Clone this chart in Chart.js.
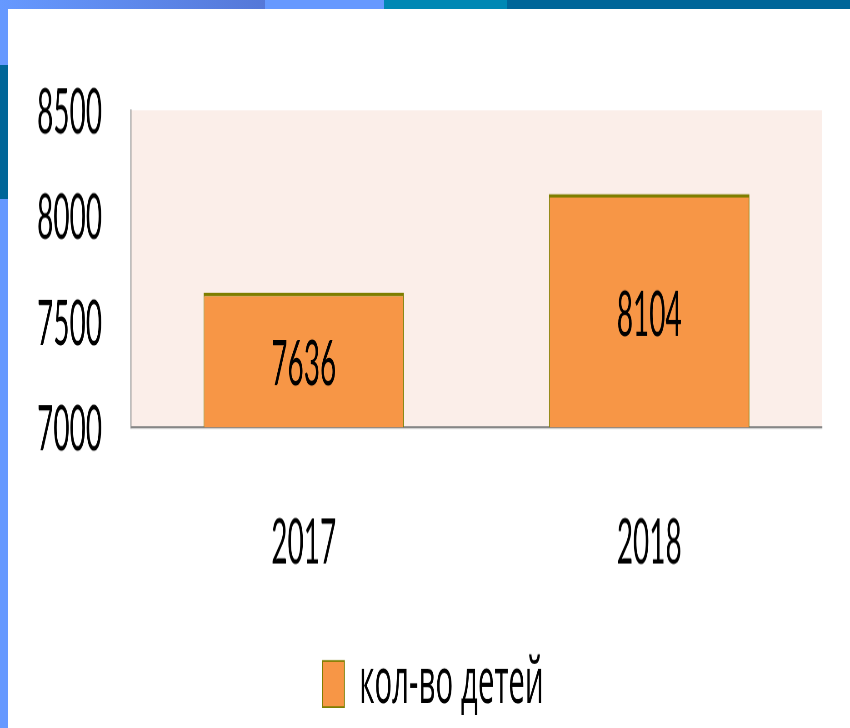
<!DOCTYPE html>
<html>
<head>
<meta charset="utf-8">
<script src="https://cdn.jsdelivr.net/npm/chart.js@4.4.1/dist/chart.umd.min.js"></script>
<style>
  html, body { margin:0; padding:0; background:#ffffff; }
  body { width:850px; height:728px; position:relative; overflow:hidden; }
  #wrap { position:absolute; left:0; top:0; width:850px; height:330px; transform-origin:0 0; transform:scaleY(2.2061); }
  #c { display:block; width:850px; height:330px; }
  .strip { position:absolute; z-index:5; }
</style>
</head>
<body>
<div id="wrap"><canvas id="c" width="850" height="330"></canvas></div>
<div class="strip" style="left:0;top:0;width:265px;height:9px;background:linear-gradient(to right,#6699FF,#5578D8);"></div>
<div class="strip" style="left:265px;top:0;width:119px;height:9px;background:#6699FF;"></div>
<div class="strip" style="left:384px;top:0;width:123px;height:9px;background:#0088B4;"></div>
<div class="strip" style="left:507px;top:0;width:343px;height:9px;background:#006699;"></div>
<div class="strip" style="left:0;top:9px;width:8px;height:56px;background:#6699FF;"></div>
<div class="strip" style="left:0;top:65px;width:8px;height:134px;background:#006699;"></div>
<div class="strip" style="left:0;top:199px;width:8px;height:529px;background:#6699FF;"></div>
<script>
const categories = ['2017', '2018'];
const seriesName = 'кол-во детей';
const seriesValues = [7636, 8104];
const yTicks = [7000, 7500, 8000, 8500];

const plotBg = {
  id: 'plotBg',
  beforeDraw(chart) {
    const a = chart.chartArea, ctx = chart.ctx;
    ctx.save();
    ctx.fillStyle = '#FBEEE9';
    ctx.fillRect(a.left, a.top, a.right - a.left, a.bottom - a.top);
    ctx.restore();
  }
};

const valueLabels = {
  id: 'valueLabels',
  afterDraw(chart) {
    const ctx = chart.ctx;
    const meta = chart.getDatasetMeta(0);
    const data = chart.data.datasets[0].data;
    const bottom = chart.chartArea.bottom;
    ctx.save();
    ctx.font = '28px Lato, "Open Sans", sans-serif';
    ctx.fillStyle = '#000000';
    ctx.textAlign = 'center';
    ctx.textBaseline = 'middle';
    for (let i = 0; i < meta.data.length; i++) {
      const bar = meta.data[i];
      const base = Math.min(bar.base, bottom);
      ctx.fillText(String(data[i]), bar.x, (bar.y + base) / 2 + 2.5);
    }
    ctx.restore();
  }
};

new Chart(document.getElementById('c'), {
  type: 'bar',
  data: {
    labels: categories,
    datasets: [{
      label: seriesName,
      data: seriesValues,
      backgroundColor: '#F79646',
      borderColor: '#7E7E00',
      borderWidth: { top: 1.6, left: 0.8, right: 0.8, bottom: 0 },
      barPercentage: 0.58,
      categoryPercentage: 1.0
    }]
  },
  options: {
    responsive: false,
    devicePixelRatio: 2.2,
    animation: false,
    layout: { padding: { top: 50, right: 0, left: 16, bottom: -4.8 } },
    scales: {
      x: {
        grid: { display: false, drawTicks: false },
        border: { display: true, color: '#868686', width: 1 },
        ticks: { font: { family: 'Lato, "Open Sans", sans-serif', size: 28 }, color: '#000000', padding: 36 },
        afterFit(scale) { scale.height = 101.7; }
      },
      y: {
        min: 7000, max: 8500,
        grid: { display: false, drawTicks: false },
        border: { display: true, color: '#8C8C8C', width: 1 },
        afterBuildTicks(scale) { scale.ticks = yTicks.map(v => ({ value: v })); },
        ticks: {
          font: { family: 'Lato, "Open Sans", sans-serif', size: 28 }, color: '#000000', padding: 29,
          labelOffset: 1.5,
          callback(v) { return String(v); }
        },
        afterFit(scale) { scale.width = 115; }
      },
      yRight: {
        position: 'right',
        display: true,
        grid: { display: false, drawTicks: false },
        border: { display: false },
        ticks: { display: false },
        afterFit(scale) { scale.width = 28; }
      }
    },
    plugins: {
      legend: {
        position: 'bottom',
        labels: {
          boxWidth: 22, boxHeight: 21,
          font: { family: '"Open Sans", "Noto Sans", sans-serif', size: 29.5 },
          color: '#000000',
          padding: 0
        }
      },
      tooltip: { enabled: false }
    }
  },
  plugins: [plotBg, valueLabels]
});
</script>
</body>
</html>
